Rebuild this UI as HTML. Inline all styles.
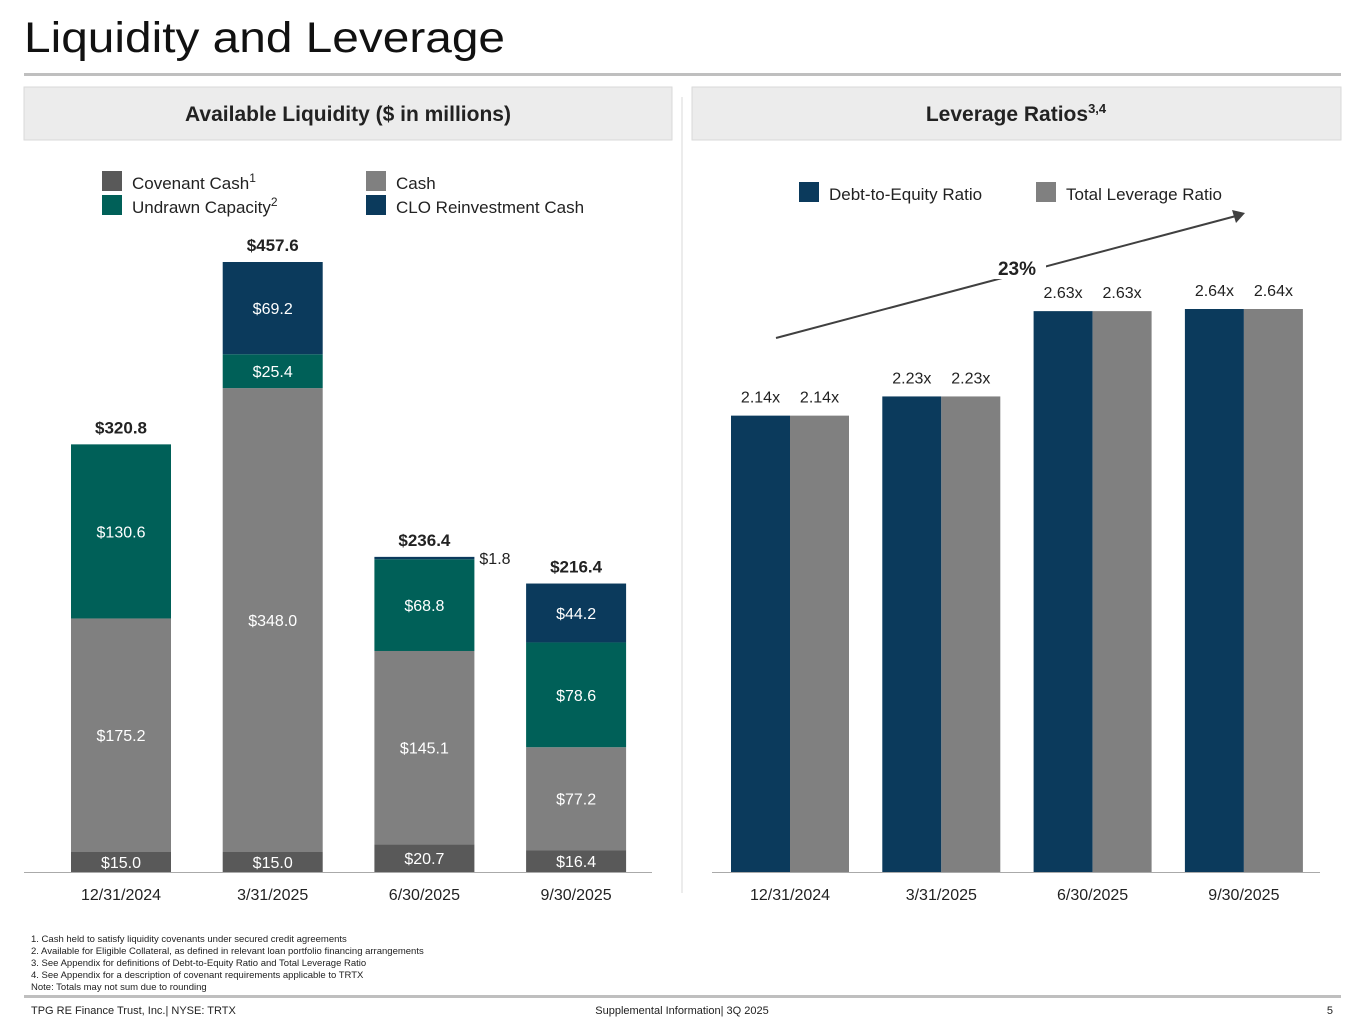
<!DOCTYPE html>
<html><head><meta charset="utf-8"><style>
body{margin:0;width:1365px;height:1024px;background:#fff;overflow:hidden;font-family:"Liberation Sans",sans-serif}
svg{display:block}
text{font-family:"Liberation Sans",sans-serif}
</style></head><body>
<svg id="s" width="1365" height="1024" viewBox="0 0 1365 1024" xmlns="http://www.w3.org/2000/svg">
<text x="24" y="52" font-size="43" fill="#111" textLength="481" lengthAdjust="spacingAndGlyphs">Liquidity and Leverage</text>
<rect x="24" y="73" width="1317" height="3" fill="#bfbfbf"/>
<rect x="24" y="87" width="648" height="53" fill="#ececec" stroke="#d9d9d9"/>
<text x="348" y="121" font-size="21" font-weight="bold" text-anchor="middle" fill="#222">Available Liquidity ($ in millions)</text>
<rect x="692" y="87" width="649" height="53" fill="#ececec" stroke="#d9d9d9"/>
<text x="1016" y="121" font-size="21" font-weight="bold" text-anchor="middle" fill="#222">Leverage Ratios<tspan font-size="13" dy="-8">3,4</tspan></text>
<line x1="682" y1="97" x2="682" y2="893" stroke="#d9d9d9"/>
<g font-size="17" fill="#222">
<rect x="102" y="171" width="20" height="20" fill="#595959"/><text x="132" y="189">Covenant Cash<tspan font-size="12" dy="-7">1</tspan></text>
<rect x="102" y="195" width="20" height="20" fill="#006058"/><text x="132" y="213">Undrawn Capacity<tspan font-size="12" dy="-7">2</tspan></text>
<rect x="366" y="171" width="20" height="20" fill="#808080"/><text x="396" y="189">Cash</text>
<rect x="366" y="195" width="20" height="20" fill="#0b3a5c"/><text x="396" y="213">CLO Reinvestment Cash</text>
</g>
<g font-size="17" fill="#222">
<rect x="799" y="182" width="20" height="20" fill="#0b3a5c"/><text x="829" y="200">Debt-to-Equity Ratio</text>
<rect x="1036" y="182" width="20" height="20" fill="#808080"/><text x="1066" y="200">Total Leverage Ratio</text>
</g>
<g id="left"></g><g id="right"></g>
<g>
<line x1="776" y1="338" x2="1236" y2="216" stroke="#404040" stroke-width="2"/>
<polygon points="1245,213 1232,210 1236,223" fill="#404040"/>
<rect x="990" y="253" width="56" height="26" fill="#fff"/>
<text x="1017" y="275" font-size="19" font-weight="bold" text-anchor="middle" fill="#222">23%</text>
</g>
<g font-size="9.5" fill="#222">
<text x="31" y="942">1. Cash held to satisfy liquidity covenants under secured credit agreements</text>
<text x="31" y="954">2. Available for Eligible Collateral, as defined in relevant loan portfolio financing arrangements</text>
<text x="31" y="966">3. See Appendix for definitions of Debt-to-Equity Ratio and Total Leverage Ratio</text>
<text x="31" y="978">4. See Appendix for a description of covenant requirements applicable to TRTX</text>
<text x="31" y="990">Note: Totals may not sum due to rounding</text>
</g>
<rect x="24" y="995" width="1317" height="3" fill="#bfbfbf"/>
<text x="31" y="1014" font-size="11" fill="#222">TPG RE Finance Trust, Inc.| NYSE: TRTX</text>
<text x="682" y="1014" font-size="11" text-anchor="middle" fill="#222">Supplemental Information| 3Q 2025</text>
<text x="1333" y="1014" font-size="11" text-anchor="end" fill="#222">5</text>
</svg>
<script>
const categories=["12/31/2024","3/31/2025","6/30/2025","9/30/2025"];
const covenantCash=[15.0,15.0,20.7,16.4];
const cash=[175.2,348.0,145.1,77.2];
const undrawn=[130.6,25.4,68.8,78.6];
const clo=[0,69.2,1.8,44.2];
const totals=["$320.8","$457.6","$236.4","$216.4"];
const debtToEquity=[2.14,2.23,2.63,2.64];
const totalLeverage=[2.14,2.23,2.63,2.64];
const NS="http://www.w3.org/2000/svg";
function mk(p,tag,a,txt){const e=document.createElementNS(NS,tag);for(const k in a)e.setAttribute(k,a[k]);if(txt!==undefined)e.textContent=txt;p.appendChild(e);return e;}
const base=872;
const yL=v=>v*610/457.6;
const xL=i=>71+i*151.7;
const L=document.getElementById('left');
const series=[[covenantCash,"#595959","covenant-cash"],[cash,"#808080","cash"],[undrawn,"#006058","undrawn-capacity"],[clo,"#0b3a5c","clo-reinvestment-cash"]];
categories.forEach((c,i)=>{
  let cum=0;
  series.forEach(([arr,col,nm])=>{
    const v=arr[i];if(v<=0)return;
    const y0=base-yL(cum),h=yL(v);cum+=v;
    const r=mk(L,'rect',{x:xL(i),y:y0-h,width:100,height:h,fill:col});
    
    
    if(h>15){const t=mk(L,'text',{x:xL(i)+50,y:y0-h/2+6,'font-size':16,fill:'#fff','text-anchor':'middle'},'$'+v.toFixed(1));
      }
    else{const t=mk(L,'text',{x:xL(i)+105,y:y0-h+7,'font-size':16,fill:'#222'},'$'+v.toFixed(1));
      }
  });
  const tt=mk(L,'text',{x:xL(i)+50,y:base-yL(cum)-11,'font-size':17,'font-weight':'bold',fill:'#222','text-anchor':'middle'},totals[i]);
  
  const xl=mk(L,'text',{x:xL(i)+50,y:900,'font-size':16,fill:'#222','text-anchor':'middle'},c);
  
});
const la=mk(L,'line',{x1:24,y1:872.5,x2:652,y2:872.5,stroke:'#aaa'});

const R=document.getElementById('right');
const yR=v=>v*563/2.64;
const xR=i=>731+i*151.3;
categories.forEach((c,i)=>{
  [[debtToEquity,"#0b3a5c",0,"debt-to-equity"],[totalLeverage,"#808080",59,"total-leverage"]].forEach(([arr,col,off,nm])=>{
    const h=yR(arr[i]);
    const r=mk(R,'rect',{x:xR(i)+off,y:base-h,width:59,height:h,fill:col});
    
    const t=mk(R,'text',{x:xR(i)+off+29.5,y:base-h-13,'font-size':16,fill:'#222','text-anchor':'middle'},arr[i].toFixed(2)+'x');
    
  });
  const xl=mk(R,'text',{x:xR(i)+59,y:900,'font-size':16,fill:'#222','text-anchor':'middle'},c);
  
});
const ra=mk(R,'line',{x1:712,y1:872.5,x2:1320,y2:872.5,stroke:'#aaa'});

</script>
</body></html>
